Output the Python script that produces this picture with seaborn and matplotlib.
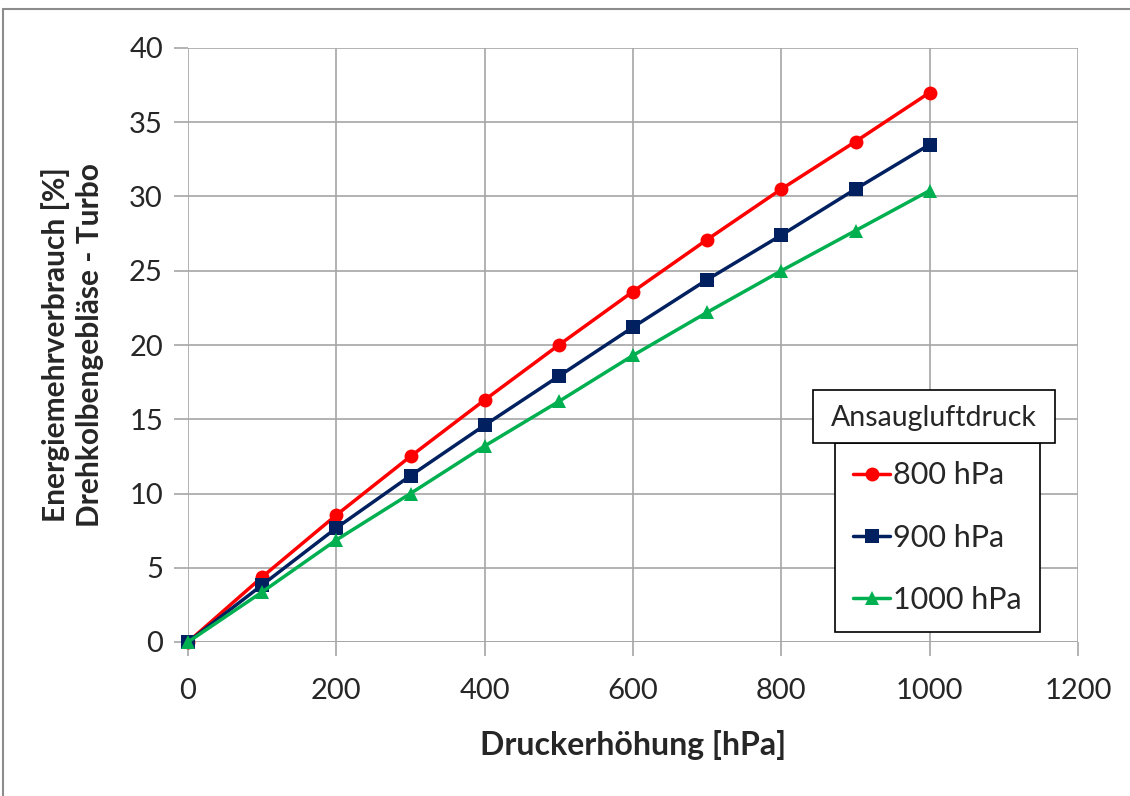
import matplotlib
matplotlib.use("Agg")
import matplotlib.pyplot as plt
import seaborn as sns
import pandas as pd
from matplotlib.patches import Rectangle
from matplotlib.lines import Line2D

x_values = [0, 100, 200, 300, 400, 500, 600, 700, 800, 900, 1000]
series_names = ["800 hPa", "900 hPa", "1000 hPa"]
y_800 = [0, 4.38, 8.55, 12.5, 16.3, 20.0, 23.6, 27.1, 30.5, 33.7, 37.0]
y_900 = [0, 3.84, 7.68, 11.2, 14.6, 17.9, 21.2, 24.4, 27.4, 30.5, 33.5]
y_1000 = [0, 3.37, 6.87, 10.0, 13.2, 16.2, 19.3, 22.2, 25.0, 27.7, 30.4]
x_ticks = [0, 200, 400, 600, 800, 1000, 1200]
y_ticks = [0, 5, 10, 15, 20, 25, 30, 35, 40]

rows = []
for name, ys in zip(series_names, [y_800, y_900, y_1000]):
    for xv, yv in zip(x_values, ys):
        rows.append({"x": xv, "y": yv, "Serie": name})
df = pd.DataFrame(rows)

sns.set_theme(style="white")
plt.rcParams["font.family"] = ["Lato", "DejaVu Sans"]

W, H = 1130, 796
fig = plt.figure(figsize=(11.3, 7.96), dpi=100)
ax = fig.add_axes([188 / W, 1 - 642 / H, (1078 - 188) / W, (642 - 48) / H])

palette = {"800 hPa": "#FF0000", "900 hPa": "#002060", "1000 hPa": "#00B050"}
markers = {"800 hPa": "o", "900 hPa": "s", "1000 hPa": "^"}
sns.lineplot(data=df, x="x", y="y", hue="Serie", style="Serie",
             palette=palette, markers=markers, dashes=False,
             linewidth=2.5, markersize=10, markeredgewidth=0,
             ax=ax, legend=False, zorder=3, clip_on=False)

ax.set_xlim(0, 1200)
ax.set_ylim(0, 40)
ax.set_xticks(x_ticks)
ax.set_yticks(y_ticks)
ax.set_xticklabels([str(t) for t in x_ticks])
ax.set_yticklabels([str(t) for t in y_ticks])
ax.grid(True, color="#A6A6A6", linewidth=1.2)
ax.set_axisbelow(True)
for s in ax.spines.values():
    s.set_visible(False)
ax.axhline(0, color="#A6A6A6", linewidth=2, zorder=1)
ax.tick_params(axis="both", which="both", length=10, width=1.2, color="#A6A6A6",
               direction="out", bottom=True, left=True, labelsize=21, pad=8)
ax.tick_params(axis="x", pad=16)

ax.set_xlabel("Druckerhöhung [hPa]", fontsize=23, fontweight="bold", labelpad=19)
ax.set_ylabel("Energiemehrverbrauch [%]\nDrehkolbengebläse - Turbo", fontsize=21.5,
              fontweight="bold", labelpad=18, linespacing=1.25)

# legend entries box
handles = [Line2D([0], [0], color=palette[n], marker=markers[n], lw=2.5,
                  markersize=10, markeredgewidth=0) for n in series_names]
leg = fig.legend(handles, series_names, loc="upper left",
                 bbox_to_anchor=(835 / W, 1 - 443 / H),
                 frameon=True, fontsize=22, handlelength=1.2,
                 handletextpad=0.1, labelspacing=1.12, borderpad=0.6,
                 borderaxespad=0, fancybox=False, edgecolor="black", framealpha=1)
leg.get_frame().set_linewidth(1.2)
leg.set_zorder(4)

# legend title box
fig.patches.append(Rectangle((813 / W, 1 - 443 / H), (1055 - 813) / W, (443 - 390) / H,
                             transform=fig.transFigure, fc="white", ec="black", lw=1.2,
                             zorder=5))
fig.text((813 + 1055) / 2 / W, 1 - 418 / H, "Ansaugluftdruck", ha="center", va="center",
         fontsize=20.5, zorder=6)

# outer frame
fig.patches.append(Rectangle((3 / W, -0.1), 1.2, 1 - 9 / H + 0.1,
                             transform=fig.transFigure, fc="none", ec="#8C8C8C", lw=1.5))

fig.savefig("out.png", dpi=100)
